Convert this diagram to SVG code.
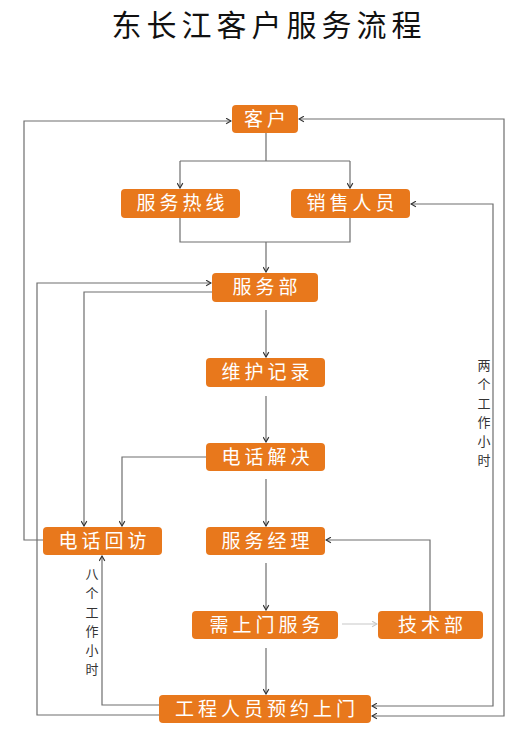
<svg xmlns="http://www.w3.org/2000/svg" width="529" height="731" viewBox="0 0 529 731">
<style>
.box{fill:#E8781C}
.bt{font-family:"Noto Sans CJK SC","Noto Sans",sans-serif;font-size:19px;fill:#fff;text-anchor:middle;letter-spacing:4px}
.ln{fill:none;stroke:#6e6e6e;stroke-width:1.2}
.lt{fill:none;stroke:#c8c8c8;stroke-width:1.2}
.lab{font-family:"Noto Sans CJK SC",sans-serif;font-size:13px;fill:#333;text-anchor:middle}
.title{font-family:"Liberation Serif","Noto Sans CJK SC",serif;font-size:30px;fill:#111;letter-spacing:5px}
</style>
<defs>
<marker id="a" viewBox="0 0 10 10" refX="9" refY="5" markerWidth="7" markerHeight="7" orient="auto-start-reverse" markerUnits="userSpaceOnUse">
<polyline points="2,1 9,5 2,9" fill="none" stroke="#333" stroke-width="1.6"/>
</marker>
<marker id="b" viewBox="0 0 10 10" refX="9" refY="5" markerWidth="7" markerHeight="7" orient="auto" markerUnits="userSpaceOnUse">
<polyline points="2,1 9,5 2,9" fill="none" stroke="#c8c8c8" stroke-width="1.6"/>
</marker>
</defs>
<rect width="529" height="731" fill="#fff"/>
<text class="title" x="269" y="36" text-anchor="middle">东长江客户服务流程</text>

<g id="connectors">
<path class="ln" d="M266,133 V161 M180,161 H350"/>
<path class="ln" d="M180,161 V188" marker-end="url(#a)"/>
<path class="ln" d="M350,161 V188" marker-end="url(#a)"/>
<path class="ln" d="M180,218 V242 H350 V218 M266,242 V272" marker-end="url(#a)"/>
<path class="ln" d="M266,310 V357" marker-end="url(#a)"/>
<path class="ln" d="M266,396 V442" marker-end="url(#a)"/>
<path class="ln" d="M266,479 V526" marker-end="url(#a)"/>
<path class="ln" d="M266,563 V610" marker-end="url(#a)"/>
<path class="ln" d="M266,648 V694" marker-end="url(#a)"/>
<path class="lt" d="M342,624 H377" marker-end="url(#b)"/>
<path class="ln" d="M430,611 V540 H326" marker-end="url(#a)"/>
<path class="ln" d="M206,457 H122 V526" marker-end="url(#a)"/>
<path class="ln" d="M212,292 H84 V526" marker-end="url(#a)"/>
<path class="ln" d="M43,540 H24 V121 H231" marker-end="url(#a)"/>
<path class="ln" d="M159,715 H37 V283 H211" marker-end="url(#a)"/>
<path class="ln" d="M159,705 H102 V556" marker-end="url(#a)"/>
<path class="ln" d="M372,706 H493 V204 H411" marker-start="url(#a)" marker-end="url(#a)"/>
<path class="ln" d="M372,716 H504 V119 H299" marker-start="url(#a)" marker-end="url(#a)"/>
</g>

<g id="lab1">
<text class="lab" x="484" y="370">两</text>
<text class="lab" x="484" y="389">个</text>
<text class="lab" x="484" y="408">工</text>
<text class="lab" x="484" y="427">作</text>
<text class="lab" x="484" y="446">小</text>
<text class="lab" x="484" y="465">时</text>
</g>
<g id="lab2">
<text class="lab" x="92" y="579">八</text>
<text class="lab" x="92" y="598">个</text>
<text class="lab" x="92" y="617">工</text>
<text class="lab" x="92" y="636">作</text>
<text class="lab" x="92" y="655">小</text>
<text class="lab" x="92" y="674">时</text>
</g>

<g id="n-kehu"><rect class="box" x="232" y="105" width="66" height="28" rx="4"/><text class="bt" x="267" y="126">客户</text></g>
<g id="n-rexian"><rect class="box" x="121" y="189" width="119" height="29" rx="4"/><text class="bt" x="182.5" y="210">服务热线</text></g>
<g id="n-xiaoshou"><rect class="box" x="291" y="189" width="119" height="29" rx="4"/><text class="bt" x="352.5" y="210">销售人员</text></g>
<g id="n-fuwubu"><rect class="box" x="212" y="273" width="106" height="29" rx="4"/><text class="bt" x="267" y="294">服务部</text></g>
<g id="n-weihu"><rect class="box" x="206" y="358" width="119" height="29" rx="4"/><text class="bt" x="267.5" y="379">维护记录</text></g>
<g id="n-jiejue"><rect class="box" x="206" y="443" width="119" height="28" rx="4"/><text class="bt" x="267.5" y="464">电话解决</text></g>
<g id="n-huifang"><rect class="box" x="43" y="527" width="119" height="28" rx="4"/><text class="bt" x="104.5" y="548">电话回访</text></g>
<g id="n-jingli"><rect class="box" x="206" y="527" width="119" height="28" rx="4"/><text class="bt" x="267.5" y="548">服务经理</text></g>
<g id="n-shangmen"><rect class="box" x="192" y="611" width="146" height="28" rx="4"/><text class="bt" x="267" y="632">需上门服务</text></g>
<g id="n-jishu"><rect class="box" x="378" y="611" width="105" height="28" rx="4"/><text class="bt" x="432.5" y="632">技术部</text></g>
<g id="n-gongcheng"><rect class="box" x="159" y="695" width="212" height="28" rx="4"/><text class="bt" x="267" y="716">工程人员预约上门</text></g>
</svg>
